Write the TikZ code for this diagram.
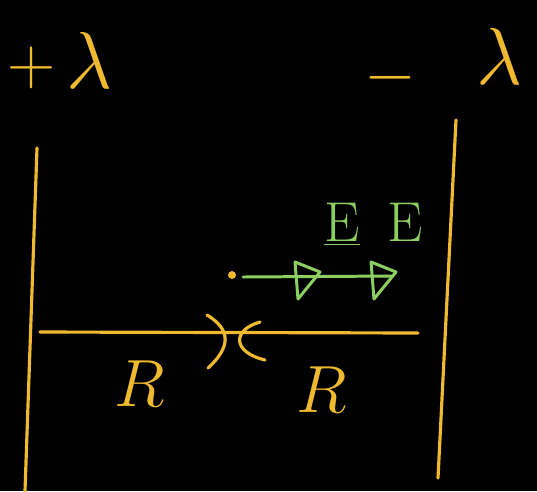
\RequirePackage{fix-cm}
\documentclass[tikz,border=0pt]{standalone}
\usetikzlibrary{calc}
\definecolor{chalk}{RGB}{240,186,48}
\definecolor{fieldgreen}{RGB}{140,206,96}
\tikzset{
  wire/.style={
    draw=chalk,
    line width=1.8pt,
    line cap=round
  },
  hand/.style={
    text=chalk,
    inner sep=0pt,
    font=\fontsize{38}{40}\selectfont
  },
  bighand/.style={
    hand,
    font=\fontsize{46}{48}\selectfont
  },
  fieldline/.style={
    draw=fieldgreen,
    line width=1.7pt,
    line cap=round,
    line join=round
  },
  fieldlabel/.style={
    text=fieldgreen,
    inner sep=0pt,
    font=\fontsize{32}{34}\selectfont
  }
}

\begin{document}
\begin{tikzpicture}[x=0.02cm,y=-0.02cm]
            \fill[black] (0,0) rectangle (537,491);
            \useasboundingbox (0,0) rectangle (537,491);
            % the two line charges
            \coordinate (lt) at (37,148);
            \coordinate (lb) at (25,491);
            \coordinate (rt) at (456,120);
            \coordinate (rb) at (438,478);
            \draw[wire] (lt) -- (lb);
            \draw[wire] (rt) -- (rb);
            \node[hand] (plus) at (32,68) {$+$};
            \node[bighand] (laml) at (90,60) {$\lambda$};
            \node[hand] (minus) at (390,78) {$-$};
            \node[bighand] (lamr) at (500,56) {$\lambda$};
            % separation line with the midpoint mark
            \coordinate (hl) at (40,332);
            \coordinate (hr) at (418,333);
            \draw[wire] (hl) -- (hr);
            \draw[wire] (207,315) .. controls (232,330) and (230,348) .. (208,368);
            \draw[wire] (260,322) .. controls (232,330) and (232,352) .. (265,360);
            \node[hand] (rl) at (140,384) {$R$};
            \node[hand] (rr) at (322,390) {$R$};
            % field at the point
            \node[circle,fill=chalk,inner sep=1.6pt] (p) at (232,275) {};
            \coordinate (fstart) at (243,277);
            \coordinate (fend) at (393,276);
            \draw[fieldline] (fstart) -- (fend);
            \foreach \x in {295,371}{
                    \draw[fieldline] (\x,262) -- ++(25,10) -- ++(-22,27) -- cycle;
                }
            \node[fieldlabel] (e1) at (342,224) {$\underline{\mathrm{E}}$};
            \node[fieldlabel] (e2) at (405,222) {$\mathrm{E}$};
        \end{tikzpicture}
\end{document}
